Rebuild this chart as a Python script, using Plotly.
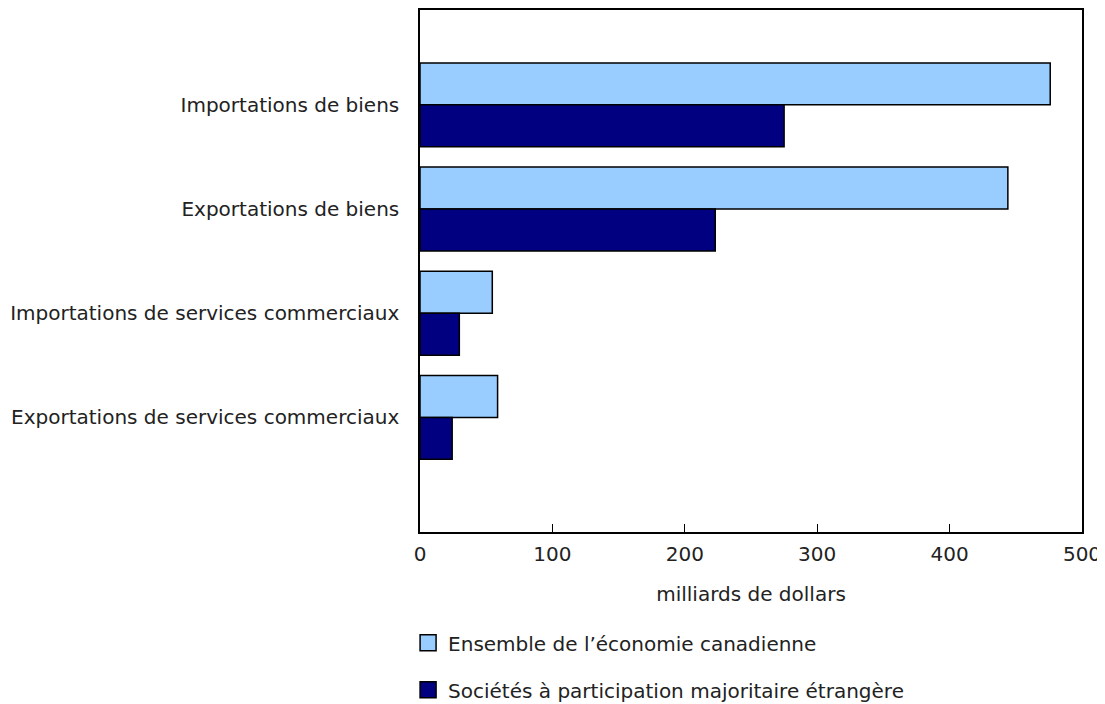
import plotly.graph_objects as go

categories = ["Importations de biens", "Exportations de biens",
              "Importations de services commerciaux", "Exportations de services commerciaux"]
ensemble = [476, 444, 54.6, 58.6]
etrangere = [275, 223, 29.7, 24.3]
series_names = ["Ensemble de l\u2019économie canadienne",
                "Sociétés à participation majoritaire étrangère"]
colors = ["#99CCFF", "#000080"]
x_ticks = [0, 100, 200, 300, 400, 500]

FONT = "Verdana, 'DejaVu Sans', sans-serif"
FS = 20

fig = go.Figure()
for vals, name, col in zip([ensemble, etrangere], series_names, colors):
    fig.add_trace(go.Bar(
        y=categories, x=vals, orientation="h", name=name, showlegend=False,
        marker=dict(color=col, line=dict(color="#000000", width=1.5))))
# legend entries (larger square swatches)
for i, (name, col) in enumerate(zip(series_names, colors)):
    fig.add_trace(go.Scatter(
        x=[None], y=[None], mode="markers", name=name, legendgroup=f"g{i}",
        marker=dict(symbol="square", size=16, color=col,
                    line=dict(color="#000000", width=1.5))))

fig.update_layout(
    width=1097, height=696,
    margin=dict(l=412, r=23, t=2, b=172, autoexpand=False),
    paper_bgcolor="white", plot_bgcolor="white",
    barmode="group", bargap=0.195, bargroupgap=0,
    font=dict(family=FONT, size=FS, color="#222222"),
    showlegend=True,
    legend=dict(x=-0.018, xanchor="left", y=-0.175, yanchor="top",
                orientation="v", traceorder="grouped", tracegroupgap=18,
                itemwidth=30,
                font=dict(family=FONT, size=FS, color="#222222"),
                bgcolor="rgba(0,0,0,0)"),
    xaxis=dict(range=[0, 500], tickvals=x_ticks, ticks="inside", ticklen=8,
               tickcolor="#000", showline=True, linecolor="#000", linewidth=1.5,
               mirror=True, showgrid=False, zeroline=False, automargin=False,
               ticklabelstandoff=3, ticklabeloverflow="allow",
               title=dict(text="milliards de dollars", standoff=22,
                          font=dict(size=FS)),
               tickfont=dict(size=FS)),
    yaxis=dict(type="category", categoryorder="array", categoryarray=categories,
               range=[4.1, -0.91], showline=True, linecolor="#000", linewidth=1.5,
               mirror=True, showgrid=False, ticks="", ticklabelstandoff=15,
               automargin=False, tickfont=dict(size=FS)),
)

fig.write_html("out.html")
